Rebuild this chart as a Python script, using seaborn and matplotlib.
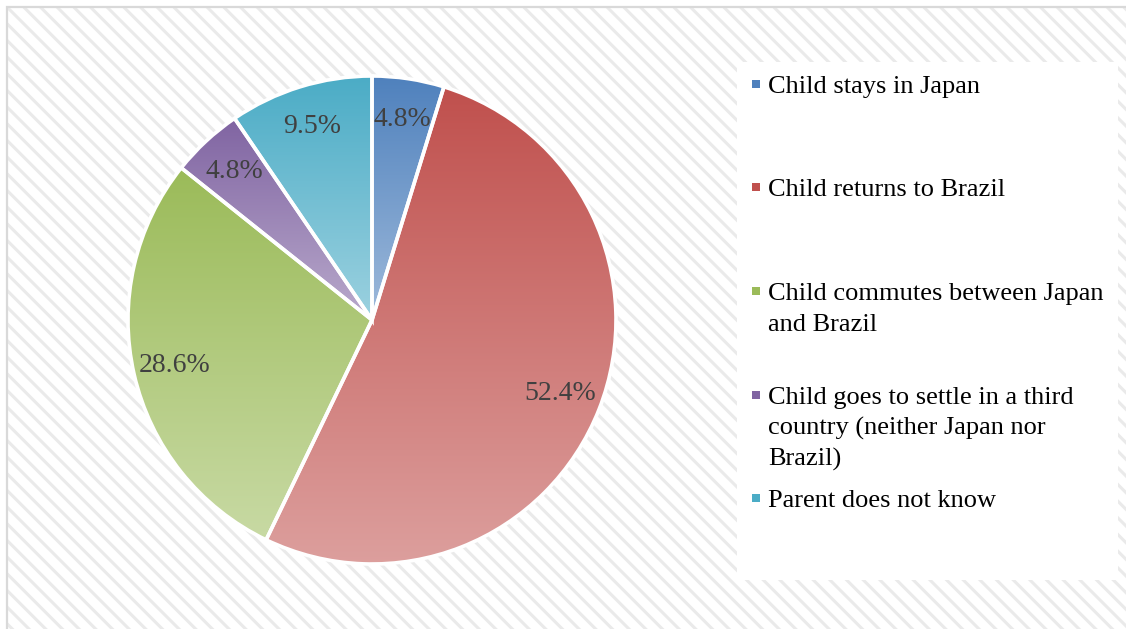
import numpy as np
import matplotlib
matplotlib.use("Agg")
import matplotlib.pyplot as plt
import matplotlib.colors as mcolors
from matplotlib.patches import Rectangle
import seaborn as sns

# Survey answers: where the child is expected to live in the future (21 responses)
categories = [
    "Child stays in Japan",
    "Child returns to Brazil",
    "Child commutes between Japan\nand Brazil",
    "Child goes to settle in a third\ncountry (neither Japan nor\nBrazil)",
    "Parent does not know",
]
counts = [1, 11, 6, 1, 2]
colors = ["#4F81BD", "#C0504D", "#9BBB59", "#8064A2", "#4BACC6"]

sns.set_theme(style="white")
plt.rcParams["font.family"] = ["Liberation Serif", "DejaVu Serif"]
plt.rcParams["hatch.linewidth"] = 2.2

W, H = 1126, 629
fig = plt.figure(figsize=(W / 100, H / 100), dpi=100)
fig.patch.set_facecolor("white")


def fx(px):
    return px / W


def fy(py):
    return 1 - py / H


# striped chart-area background with a thin grey frame
bg = Rectangle((fx(7), 0), 1 - fx(7) + 0.01, fy(7), transform=fig.transFigure,
               facecolor="white", edgecolor="#EAEAEA", hatch="\\\\", linewidth=0,
               zorder=-3)
fig.patches.append(bg)
frame = Rectangle((fx(7), -0.01), 1 - fx(7) + 0.02, fy(7) + 0.01,
                  transform=fig.transFigure, fill=False, edgecolor="#D9D9D9",
                  linewidth=1.6, zorder=-2)
fig.patches.append(frame)


def lighten(c, amt):
    r = np.array(mcolors.to_rgb(c))
    return r + (1 - r) * amt


# pie
cx, cy, r = 372, 320, 244
ax = fig.add_axes([fx(cx - r), fy(cy + r), 2 * r / W, 2 * r / H])
ax.set_zorder(2)
ax.set_facecolor("none")
wedges, texts, autotexts = ax.pie(
    counts, colors=colors, startangle=90, counterclock=False,
    autopct="%1.1f%%", pctdistance=0.83,
    wedgeprops=dict(edgecolor="white", linewidth=2.6),
    textprops=dict(fontsize=20, color="#404040"),
)

# vertical gradient inside each wedge, darker at the top
for w, c in zip(wedges, colors):
    ext = w.get_path().get_extents()
    top = lighten(c, 0.0)
    bot = lighten(c, 0.45)
    t = np.linspace(0, 1, 256)[:, None]
    grad = (top[None, :] * (1 - t) + bot[None, :] * t)[:, None, :]
    im = ax.imshow(grad, extent=[ext.x0, ext.x1, ext.y0, ext.y1],
                   origin="upper", aspect="auto", zorder=0.5,
                   interpolation="bilinear")
    im.set_clip_path(w)
    w.set_facecolor("none")
    w.set_zorder(1)

for t in autotexts:
    t.set_zorder(3)

ax.set_xlim(-1.0, 1.0)
ax.set_ylim(-1.0, 1.0)
ax.set_aspect("auto")
ax.axis("off")

# legend box
lx0, ly0, lx1, ly1 = 737, 62, 1118, 580
fig.patches.append(Rectangle((fx(lx0), fy(ly1)), fx(lx1 - lx0), (ly1 - ly0) / H,
                             transform=fig.transFigure, facecolor="white",
                             edgecolor="none", zorder=1))
baselines = [93, 196, 300, 404, 507]
line_gap = 31
for lab, c, b in zip(categories, colors, baselines):
    sq = 8
    fig.patches.append(Rectangle((fx(752), fy(b - 5)), sq / W, sq / H,
                                 transform=fig.transFigure, facecolor=c,
                                 edgecolor="none", zorder=2))
    for i, line in enumerate(lab.split("\n")):
        fig.text(fx(768), fy(b + i * line_gap), line, fontsize=19,
                 color="black", ha="left", va="baseline", zorder=3)

fig.savefig("out.png", dpi=100)
